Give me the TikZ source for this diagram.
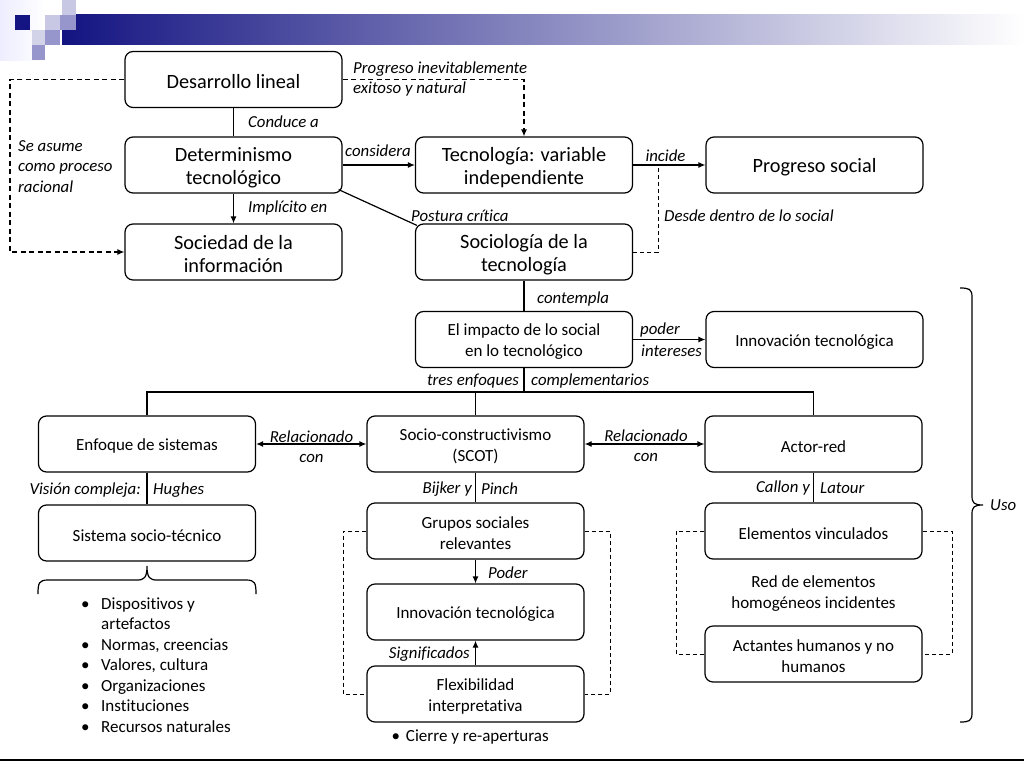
\documentclass[tikz,border=0pt]{standalone}
\usepackage{fontspec}
\setmainfont{Carlito}[Ligatures={NoCommon}]
\usetikzlibrary{arrows.meta}
\definecolor{navy}{RGB}{20,20,130}
\definecolor{lav}{RGB}{200,200,228}
\definecolor{lavm}{RGB}{150,150,205}
\definecolor{lavl}{RGB}{210,210,232}
% box node with its text as a separate, slightly lowered node
\newcommand\mkbox[4]{%
  \node[box] (#2) at #3 {};
  \node[#1,align=center,inner sep=0pt,yshift=-2.3pt] (#2-t) at (#2.center) {#4};}
\begin{document}
\begin{tikzpicture}[x=1pt,y=-1pt,
  box/.style={draw,rounded corners=8pt,line width=1.2pt,minimum width=217pt,minimum height=56pt,inner sep=0pt},
  big/.style={font=\fontsize{20.3}{23}\selectfont},
  small/.style={font=\fontsize{17}{20.5}\selectfont},
  lab/.style={font=\fontsize{16.8}{20.5}\selectfont\itshape,inner sep=0pt},
  conn/.style={line width=1.2pt},
  arr/.style={conn,-{Latex[length=7pt,width=6pt]}},
  darr/.style={conn,{Latex[length=7pt,width=6pt]}-{Latex[length=7pt,width=6pt]}},
  dsh/.style={line width=1.2pt,dash pattern=on 5pt off 3.5pt},
  dshthin/.style={line width=1pt,dash pattern=on 4pt off 3pt}
]
\useasboundingbox (0,0) rectangle (1024,768);
% banner
\shade[left color=blue!7,right color=white] (0,0) rectangle (45,60);
\shade[left color=navy,right color=white] (62,15) rectangle (1024,45);
\fill[navy] (15,15) rectangle (30,30);
\fill[lav] (45,15) rectangle (60,30);
\fill[lavm] (60,15) rectangle (76,30);
\fill[lav] (62,0) rectangle (76,15);
\fill[lavl] (32,30) rectangle (45,45);
\fill[lavm] (45,30) rectangle (60,45);
\fill[lavm] (32,45) rectangle (45,60);
\draw[line width=2pt] (0,760) -- (1024,760);

% nodes
\mkbox{big}{dl}{(233.5,79.5)}{Desarrollo lineal}
\mkbox{big}{dt}{(233.5,165)}{Determinismo\\tecnológico}
\mkbox{big}{si}{(233.5,252)}{Sociedad de la\\información}
\mkbox{big}{tv}{(524,165)}{Tecnología: variable\\independiente}
\mkbox{big}{st}{(524,252)}{Sociología de la\\tecnología}
\mkbox{big}{ps}{(814.5,165)}{Progreso social}
\mkbox{small}{im}{(524,339.5)}{El impacto de lo social\\en lo tecnológico}
\mkbox{small}{it}{(814.5,339.5)}{Innovación tecnológica}
\mkbox{small}{es}{(147,444)}{Enfoque de sistemas}
\mkbox{small}{sc}{(475.5,444)}{Socio-constructivismo\\(SCOT)}
\mkbox{small}{ar}{(813.5,444)}{Actor-red}
\mkbox{small}{ss}{(147,533)}{Sistema socio-técnico}
\mkbox{small}{gs}{(475.5,531)}{Grupos sociales\\relevantes}
\mkbox{small}{in}{(475.5,612)}{Innovación tecnológica}
\mkbox{small}{fi}{(475.5,694)}{Flexibilidad\\interpretativa}
\mkbox{small}{ev}{(813.5,531)}{Elementos vinculados}
\mkbox{small}{ah}{(813.5,654)}{Actantes humanos y no\\humanos}
\node[small,align=center] (red) at (813.5,593.5) {Red de elementos\\homogéneos incidentes};

% top connectors
\coordinate (lft) at (10,79.5);
\draw[dsh,-{Latex[length=7pt,width=6pt]}] (dl.west) -- (lft) |- (si.west);
\node[lab,align=left,anchor=west] (l1) at (18,166.5) {Se asume\\como proceso\\racional};
\draw[dsh,-{Latex[length=7pt,width=6pt]}] (dl.east) -| (tv.north);
\node[lab,align=left,anchor=west] (l2) at (353,79) {Progreso inevitablemente\\exitoso y natural};
\draw[conn] (dl) -- (dt);
\node[lab,anchor=west] (l3) at (248,122) {Conduce a};
\draw[arr] (dt) -- (tv);
\node[lab] (l4) at (378,151) {considera};
\draw[arr] (dt) -- (si);
\node[lab,anchor=west] (l5) at (248,208) {Implícito en};
\draw[conn] ([shift={(-4,-4)}]dt.south east) -- ([shift={(2,2)}]st.north west);
\node[lab,anchor=west] (l6) at (411,216) {Postura crítica};
\draw[arr] (tv) -- (ps);
\node[lab] (l7) at (665.5,156) {incide};
\coordinate (jn) at (658,165);
\draw[dshthin] (st.east) -| (jn);
\node[lab,anchor=west] (l8) at (664,216) {Desde dentro de lo social};
\draw[conn] (st) -- (im);
\node[lab,anchor=west] (l9) at (537,299) {contempla};
\draw[arr] (im) -- (it);
\node[lab,anchor=west] (l10) at (640,330) {poder};
\node[lab,anchor=west] (l11) at (641,351) {intereses};

% tree
\coordinate (br) at (524,392);
\draw[conn] (im.south) -- (br);
\draw[conn] (es.north) |- (br) -| (ar.north);
\draw[conn] (sc.north) -- (sc.north |- br);
\node[lab,anchor=east] (l12) at (519,381) {tres enfoques};
\node[lab,anchor=west] (l13) at (531,381) {complementarios};

\draw[darr] (es) -- (sc);
\node[lab,align=center] (l14) at (311.5,446.5) {Relacionado\\con};
\draw[darr] (sc) -- (ar);
\node[lab,align=center] (l15) at (646,445.5) {Relacionado\\con};

\draw[conn] (es) -- (ss);
\node[lab,anchor=east] (l16) at (141,490) {Visión compleja:};
\node[lab,anchor=west] (l17) at (153,490) {Hughes};
\draw[conn] (sc) -- (gs);
\node[lab,anchor=east] (l18) at (472,489) {Bijker y};
\node[lab,anchor=west] (l19) at (481,489) {Pinch};
\draw[conn] (ar) -- (ev);
\node[lab,anchor=east] (l20) at (810,488) {Callon y};
\node[lab,anchor=west] (l21) at (820,488) {Latour};

\draw[arr] (gs) -- (in);
\node[lab,anchor=west] (l22) at (488,573) {Poder};
\draw[arr] (fi) -- (in);
\node[lab,anchor=east] (l23) at (470,654) {Significados};

\coordinate (gl) at (343,612);
\coordinate (gr) at (610,612);
\draw[dshthin] (gs.west) -| (gl) |- (fi.west);
\draw[dshthin] (gs.east) -| (gr) |- (fi.east);
\coordinate (el) at (676,592);
\coordinate (er) at (952,592);
\draw[dshthin] (ev.west) -| (el) |- (ah.west);
\draw[dshthin] (ev.east) -| (er) |- (ah.east);

% braces
\draw[conn] (38,594) .. controls (38,583) and (39,580) .. (48,580) -- (137,580) .. controls (144,580) and (147,578) .. (147,566) .. controls (147,578) and (150,580) .. (157,580) -- (246,580) .. controls (255,580) and (256,583) .. (256,594);
\node[small,anchor=north west,inner sep=0pt] (list) at (81,594.5) {%
\begin{tabular}{@{}p{20pt}@{}l@{}}
\textbullet & Dispositivos y\\
 & artefactos\\
\textbullet & Normas, creencias\\
\textbullet & Valores, cultura\\
\textbullet & Organizaciones\\
\textbullet & Instituciones\\
\textbullet & Recursos naturales
\end{tabular}};
\node[small,anchor=west] (cierre) at (388,737) {\textbullet\hspace{6pt}Cierre y re-aperturas};

\draw[conn] (960,288) .. controls (969,288) and (972,289) .. (972,297) -- (972,496) .. controls (972,503) and (974,505) .. (983,505) .. controls (974,505) and (972,507) .. (972,514) -- (972,713) .. controls (972,721) and (969,722) .. (960,722);
\node[lab,anchor=west] (uso) at (990,505) {Uso};
\end{tikzpicture}
\end{document}
